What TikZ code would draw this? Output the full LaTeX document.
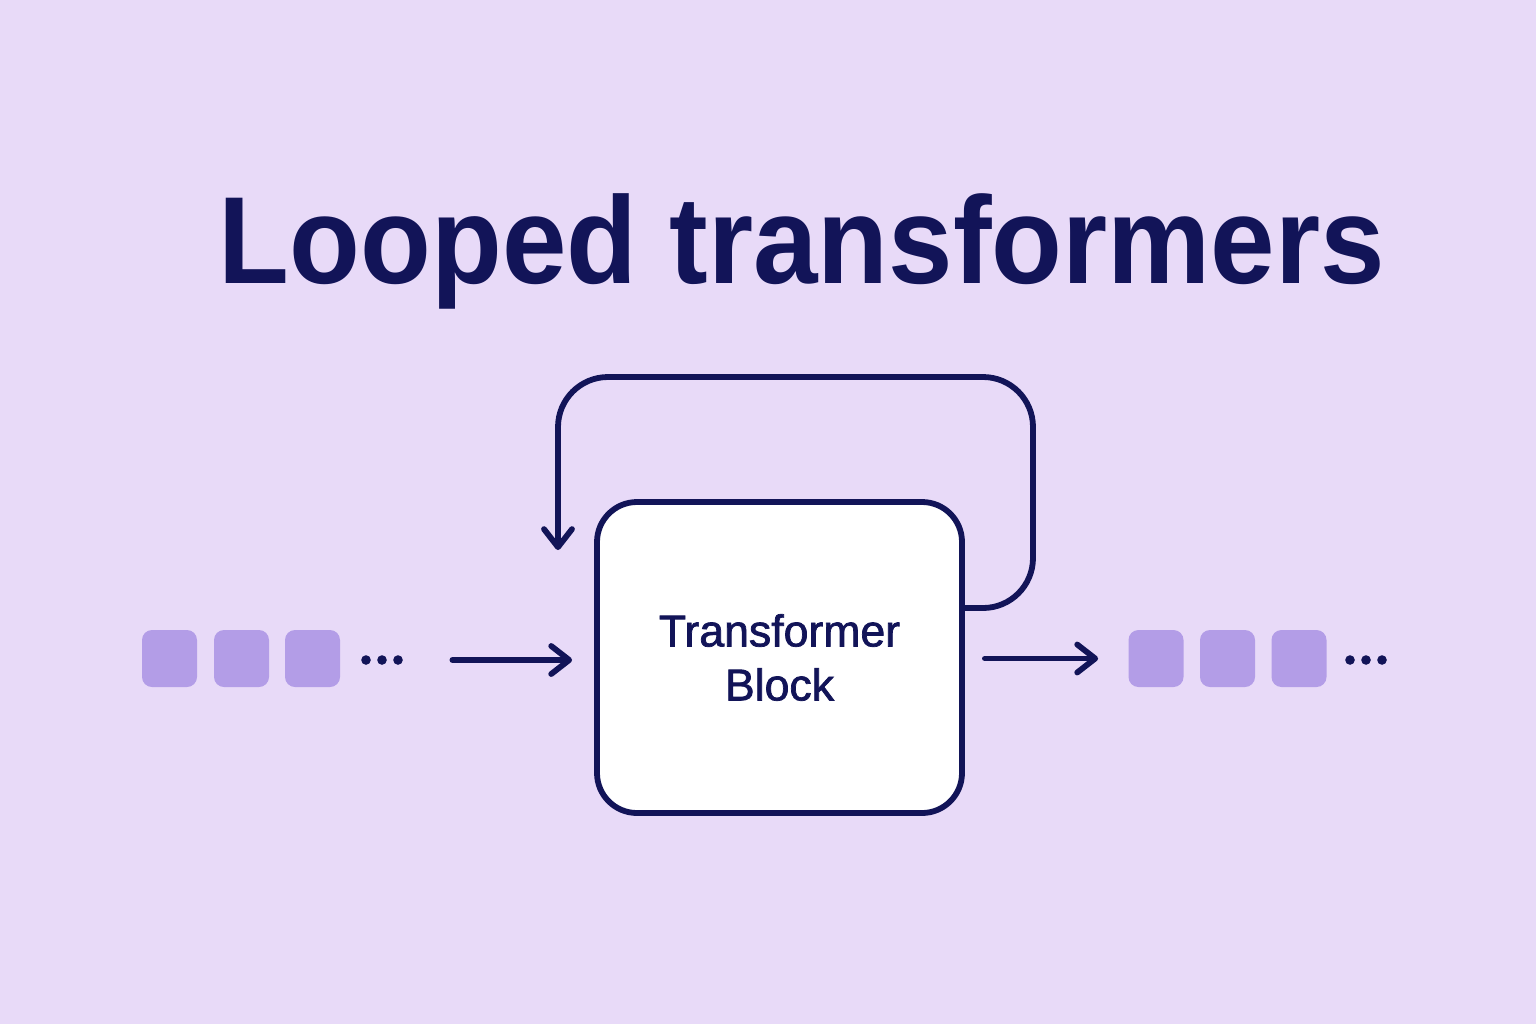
\documentclass[tikz,border=0pt]{standalone}
\usepackage{fontspec}
\setmainfont{Liberation Sans}
\newfontfamily\boxfont{Liberation Sans}[FakeBold=1.6]
\usetikzlibrary{arrows.meta}
\definecolor{bg}{HTML}{E8DAF8}
\definecolor{navy}{HTML}{121458}
\definecolor{tok}{HTML}{B39DE7}
\tikzset{
  conn/.style={draw=navy, line width=2.9pt, line cap=round, line join=round,
    -{Straight Barb[length=9pt,width=14pt,round]}},
  token/.style={fill=tok, rounded corners=5pt, minimum width=27.5pt, minimum height=28.5pt, inner sep=0pt},
  dotsgrp/.style={minimum width=20pt, minimum height=5pt, inner sep=0pt},
  block/.style={draw=navy, fill=white, line width=2.9pt, rounded corners=20pt,
    minimum width=182.5pt, minimum height=155.5pt, inner sep=0pt, align=center,
    text=navy, font=\boxfont\fontsize{22.3pt}{27pt}\selectfont},
}
\begin{document}
\begin{tikzpicture}[x=0.5pt,y=-0.5pt]
\useasboundingbox (0,0) rectangle (1536,1024);
\fill[bg] (0,0) rectangle (1536,1024);
% title
\node[anchor=base, text=navy, inner sep=0pt] (title) at (802,283)
  {\scalebox{0.935}[1]{\fontsize{62pt}{70pt}\selectfont\bfseries Looped transformers}};
% block
\node[block] (box) at (779.5,657.5) {Transformer\\Block};
% input tokens
\node[token] (i1) at (169.5,658.5) {};
\node[token] (i2) at (241.5,658.5) {};
\node[token] (i3) at (312.5,658.5) {};
\node[dotsgrp] (indots) at (382,660) {};
\fill[navy] (indots.center) ++(-16,0) circle[radius=2.4pt];
\fill[navy] (indots.center) circle[radius=2.4pt];
\fill[navy] (indots.center) ++(16,0) circle[radius=2.4pt];
% output tokens
\node[token] (o1) at (1156,658.5) {};
\node[token] (o2) at (1227.5,658.5) {};
\node[token] (o3) at (1299,658.5) {};
\node[dotsgrp] (outdots) at (1366,660) {};
\fill[navy] (outdots.center) ++(-16,0) circle[radius=2.4pt];
\fill[navy] (outdots.center) circle[radius=2.4pt];
\fill[navy] (outdots.center) ++(16,0) circle[radius=2.4pt];
% connectors
\draw[conn, shorten <=25pt, shorten >=11pt] (indots.east) -- (indots.east -| box.west);
\draw[conn, shorten <=10pt, shorten >=15pt] (box.east |- o1.west) -- (o1.west);
\draw[conn, rounded corners=25pt] (box.east |- 0,608) -- (1033,608) -- (1033,377) -- (558,377) -- (558,550);
\end{tikzpicture}
\end{document}
